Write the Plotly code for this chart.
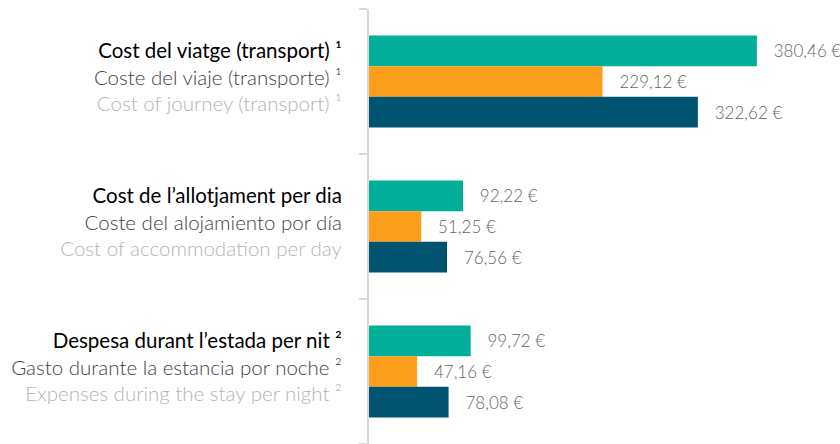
import plotly.graph_objects as go

categories_ca = ["Cost del viatge (transport) ¹", "Cost de l’allotjament per dia", "Despesa durant l’estada per nit ²"]
categories_es = ["Coste del viaje (transporte) ¹", "Coste del alojamiento por día", "Gasto durante la estancia por noche ²"]
categories_en = ["Cost of journey (transport) ¹", "Cost of accommodation per day", "Expenses during the stay per night ²"]

series_names = ["Sèrie 1", "Sèrie 2", "Sèrie 3"]
series_values = [
    [380.46, 92.22, 99.72],
    [229.12, 51.25, 47.16],
    [322.62, 76.56, 78.08],
]
series_colors = ["#00AE99", "#FC9E1C", "#00546F"]

keys = ["c0", "c1", "c2"]
ticktext = [
    f'<span style="color:#000000;font-weight:400">{a}</span><br>'
    f'<span style="color:#3f3f3f;font-weight:300">{b}</span><br>'
    f'<span style="color:#b4b4b4;font-weight:300">{c}</span>'
    for a, b, c in zip(categories_ca, categories_es, categories_en)
]

def fmt(v):
    return "   " + f"{v:.2f}".replace(".", ",") + " €"

fig = go.Figure()
for name, vals, col in zip(series_names, series_values, series_colors):
    fig.add_trace(go.Bar(
        y=keys, x=vals, orientation="h", name=name,
        marker=dict(color=col, line=dict(width=0)),
        text=[fmt(v) for v in vals], textposition="outside",
        textfont=dict(color="#666666", size=17, family="Lato", weight=300),
        cliponaxis=False,
    ))

fig.update_layout(
    width=840, height=444,
    margin=dict(l=369, r=0, t=9, b=0, autoexpand=False),
    barmode="group", bargap=0.366, bargroupgap=0,
    showlegend=False,
    plot_bgcolor="white", paper_bgcolor="white",
    font=dict(family="Lato", size=20),
)
fig.update_xaxes(range=[0, 462], visible=False, showgrid=False, zeroline=False, automargin=False)
fig.update_yaxes(
    type="category", autorange="reversed", automargin=False,
    tickmode="array", tickvals=keys, ticktext=ticktext,
    tickson="boundaries", ticks="outside", ticklen=8, tickwidth=2, tickcolor="#d9d9d9",
    showline=True, linecolor="#d9d9d9", linewidth=2,
    showgrid=False, zeroline=False,
    ticklabelstandoff=21, ticklabelshift=4,
    tickfont=dict(family="Lato", size=20.5),
)
fig.write_html(
    "out.html",
    config={"displayModeBar": False},
    post_script="document.body.style.margin='0';document.body.style.overflow='hidden';",
)
